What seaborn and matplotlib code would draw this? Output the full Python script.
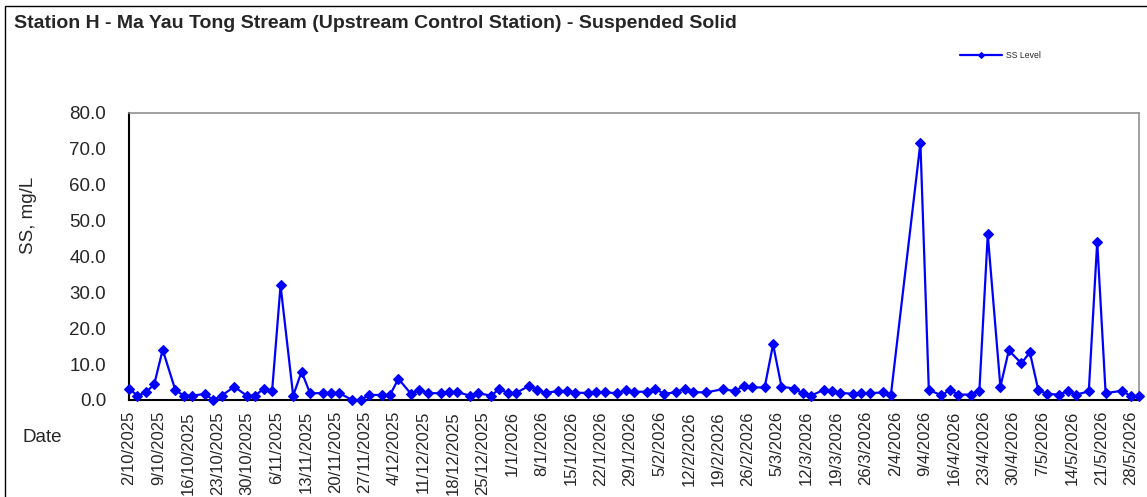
import pandas as pd
import seaborn as sns
import matplotlib.pyplot as plt
import matplotlib.dates as mdates
from matplotlib.ticker import FuncFormatter, MultipleLocator
from matplotlib.patches import Rectangle

# Sampling dates and suspended solid readings (mg/L)
dates = [
    "2025-10-02", "2025-10-04", "2025-10-06", "2025-10-08", "2025-10-10",
    "2025-10-13", "2025-10-15", "2025-10-17", "2025-10-20", "2025-10-22",
    "2025-10-24", "2025-10-27", "2025-10-30", "2025-11-01", "2025-11-03",
    "2025-11-05", "2025-11-07", "2025-11-10", "2025-11-12", "2025-11-14",
    "2025-11-17", "2025-11-19", "2025-11-21", "2025-11-24", "2025-11-26",
    "2025-11-28", "2025-12-01", "2025-12-03", "2025-12-05", "2025-12-08",
    "2025-12-10", "2025-12-12", "2025-12-15", "2025-12-17", "2025-12-19",
    "2025-12-22", "2025-12-24", "2025-12-27", "2025-12-29", "2025-12-31",
    "2026-01-02", "2026-01-05", "2026-01-07", "2026-01-09", "2026-01-12",
    "2026-01-14", "2026-01-16", "2026-01-19", "2026-01-21", "2026-01-23",
    "2026-01-26", "2026-01-28", "2026-01-30", "2026-02-02", "2026-02-04",
    "2026-02-06", "2026-02-09", "2026-02-11", "2026-02-13", "2026-02-16",
    "2026-02-20", "2026-02-23", "2026-02-25", "2026-02-27", "2026-03-02",
    "2026-03-04", "2026-03-06", "2026-03-09", "2026-03-11", "2026-03-13",
    "2026-03-16", "2026-03-18", "2026-03-20", "2026-03-23", "2026-03-25",
    "2026-03-27", "2026-03-30", "2026-04-01", "2026-04-08", "2026-04-10",
    "2026-04-13", "2026-04-15", "2026-04-17", "2026-04-20", "2026-04-22",
    "2026-04-24", "2026-04-27", "2026-04-29", "2026-05-02", "2026-05-04",
    "2026-05-06", "2026-05-08", "2026-05-11", "2026-05-13", "2026-05-15",
    "2026-05-18", "2026-05-20", "2026-05-22", "2026-05-26", "2026-05-28",
    "2026-05-30",
]
ss_level = [
    3.2, 1.2, 2.1, 4.4, 14.0,
    2.8, 1.2, 1.2, 1.7, 0.0,
    1.2, 3.7, 1.2, 1.2, 3.2,
    2.6, 31.9, 1.2, 7.9, 1.9,
    1.9, 2.0, 1.9, 0.0, 0.0,
    1.4, 1.4, 1.4, 5.9, 1.7,
    2.8, 1.9, 1.9, 2.2, 2.2,
    1.2, 1.9, 1.2, 3.1, 1.9,
    2.0, 3.9, 2.8, 2.0, 2.5,
    2.5, 2.0, 2.0, 2.3, 2.1,
    1.9, 2.7, 2.3, 2.3, 3.2,
    1.7, 2.2, 3.2, 2.2, 2.1,
    3.0, 2.5, 3.9, 3.5, 3.5,
    15.5, 3.7, 3.2, 1.9, 1.2,
    2.8, 2.5, 2.0, 1.7, 1.9,
    1.9, 2.1, 1.5, 71.6, 2.8,
    1.3, 2.8, 1.5, 1.5, 2.4,
    46.1, 3.7, 13.8, 10.2, 13.3,
    2.8, 1.7, 1.5, 2.4, 1.5,
    2.4, 44.1, 1.9, 2.6, 1.0,
    1.2,
]

df = pd.DataFrame({"Date": pd.to_datetime(dates), "SS Level": ss_level})

sns.set_style("white")
plt.rcParams["font.family"] = ["Liberation Sans", "DejaVu Sans"]

fig = plt.figure(figsize=(11.47, 4.97), dpi=100)
ax = fig.add_axes([129 / 1147, 1 - 400 / 497, (1139.3 - 129) / 1147, (400 - 112.7) / 497])

sns.lineplot(data=df, x="Date", y="SS Level", ax=ax, color="#0000ff",
             marker="D", markersize=5.6, markeredgewidth=0.8, markeredgecolor="#0000ff",
             linewidth=1.6, label="SS Level", clip_on=False, zorder=5)

ax.set_xlim(pd.Timestamp("2025-10-02"), pd.Timestamp("2026-05-30"))
ax.set_ylim(0, 80)
ax.yaxis.set_major_locator(MultipleLocator(10))
ax.yaxis.set_major_formatter(FuncFormatter(lambda v, p: f"{v:.1f}"))

tick_dates = pd.date_range("2025-10-02", "2026-05-28", freq="7D")
ax.set_xticks(tick_dates)
ax.xaxis.set_major_formatter(FuncFormatter(
    lambda v, p: f"{mdates.num2date(v).day}/{mdates.num2date(v).month}/{mdates.num2date(v).year}"))
plt.setp(ax.get_xticklabels(), rotation=90)

ax.tick_params(axis="y", direction="in", length=4, width=1, labelsize=13.5, color="black", pad=16.5)
ax.tick_params(axis="x", direction="in", length=4, width=1, labelsize=12, color="black", pad=8)

for side in ["left", "bottom"]:
    ax.spines[side].set_color("black")
    ax.spines[side].set_linewidth(1.5)
for side in ["top", "right"]:
    ax.spines[side].set_color("#909090")
    ax.spines[side].set_linewidth(1.2)

ax.set_xlabel("")
ax.set_ylabel("SS, mg/L", fontsize=13.5, va="center")
ax.yaxis.set_label_coords(-0.099, 0.644)

fig.text(22 / 1147, 1 - 438 / 497, "Date", fontsize=13.5, va="center", ha="left")
fig.text(14 / 1147, 1 - 23 / 497, "Station H - Ma Yau Tong Stream (Upstream Control Station) - Suspended Solid",
         fontsize=14, fontweight="bold", va="center", ha="left")

leg = ax.legend(loc="center left", bbox_to_anchor=(960 / 1147, 1 - 56 / 497),
                bbox_transform=fig.transFigure, frameon=False, fontsize=6.2,
                handlelength=4.9, handletextpad=0.47, borderpad=0, borderaxespad=0)
for h in leg.get_lines():
    h.set_markersize(3)

# chart area border
fig.patches.append(Rectangle((5 / 1147, -0.1), 1.2, 1.1 - 6 / 497, transform=fig.transFigure,
                             fill=False, edgecolor="black", linewidth=1))

fig.savefig("out.png", dpi=100)
